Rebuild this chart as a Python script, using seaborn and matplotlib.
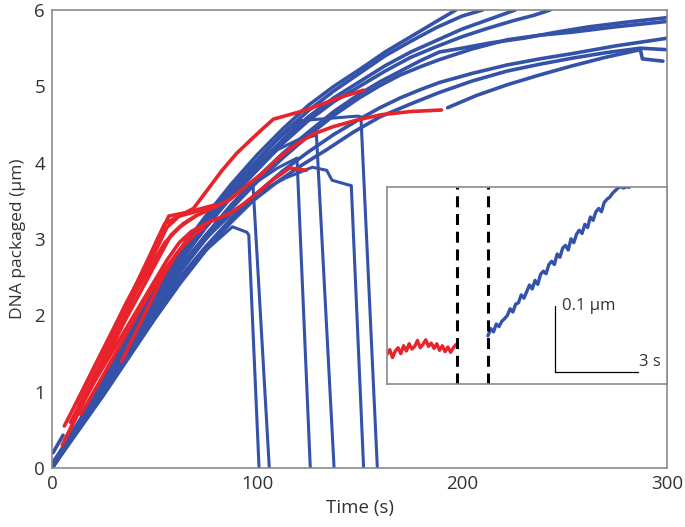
import numpy as np
import pandas as pd
import matplotlib
matplotlib.use("Agg")
import matplotlib.pyplot as plt
import seaborn as sns

# ---------------- data ----------------
# continuing blue traces: (time s, DNA packaged um)
blue_traces = {
    "B1": [(0, 0.0), (25, 1.15), (50, 2.35), (62.5, 2.85), (75, 3.3), (87.5, 3.72), (100, 4.1), (112.5, 4.44),
           (125, 4.75), (137.5, 5.0), (150, 5.22), (162.5, 5.45), (175, 5.65), (187.5, 5.85), (197, 6.0)],
    "B2": [(0, 0.05), (25, 1.1), (50, 2.3), (62.5, 2.8), (75, 3.25), (87.5, 3.67), (100, 4.03), (112.5, 4.38),
           (125, 4.68), (137.5, 4.94), (150, 5.17), (162.5, 5.4), (175, 5.59), (187.5, 5.77), (200, 5.92), (210, 6.0)],
    "B9": [(0, 0.0), (25, 1.08), (50, 2.25), (62.5, 2.75), (75, 3.2), (87.5, 3.6), (100, 3.95), (112.5, 4.3),
           (125, 4.6), (137.5, 4.85), (150, 5.06), (162.5, 5.27), (175, 5.45), (187.5, 5.6), (200, 5.75),
           (212.5, 5.87), (226, 6.0)],
    "B3": [(0, 0.0), (25, 1.05), (50, 2.2), (62.5, 2.7), (75, 3.15), (87.5, 3.55), (100, 3.9), (112.5, 4.25),
           (125, 4.55), (137.5, 4.8), (150, 5.0), (162.5, 5.2), (175, 5.38), (187.5, 5.52), (200, 5.65),
           (212.5, 5.76), (225, 5.86), (235, 5.93), (243, 6.0)],
    "B4": [(0, 0.0), (25, 1.05), (50, 2.15), (62.5, 2.62), (75, 3.05), (87.5, 3.45), (100, 3.8), (112.5, 4.12),
           (125, 4.4), (137.5, 4.67), (150, 4.9), (160, 5.06), (170, 5.2), (180, 5.34), (189, 5.45), (200, 5.5),
           (214, 5.57), (230, 5.63), (246, 5.71), (262, 5.78), (280, 5.84), (300, 5.9)],
    "B5": [(0, 0.0), (25, 1.0), (50, 2.1), (62.5, 2.57), (75, 3.0), (87.5, 3.4), (100, 3.75), (112.5, 4.06),
           (125, 4.35), (137.5, 4.62), (150, 4.85), (160, 5.01), (170, 5.15), (180, 5.26), (189, 5.35),
           (205, 5.49), (222, 5.61), (238, 5.67), (254, 5.71), (275, 5.78), (300, 5.85)],
    "B6": [(0, 0.0), (25, 1.0), (50, 2.05), (62.5, 2.5), (75, 2.9), (87.5, 3.27), (100, 3.6), (112.5, 3.89),
           (125, 4.14), (137.5, 4.37), (150, 4.57), (160, 4.72), (170, 4.85), (180, 4.96), (189, 5.05),
           (205, 5.17), (222, 5.28), (238, 5.36), (254, 5.43), (275, 5.53), (300, 5.63)],
    "B7": [(0, 0.0), (25, 0.95), (50, 1.95), (62.5, 2.42), (75, 2.85), (87, 3.21), (98, 3.5), (110, 3.75),
           (122, 3.97), (134, 4.17), (147, 4.4), (160, 4.6), (175, 4.77), (189, 4.92), (205, 5.07),
           (222, 5.2), (238, 5.29), (254, 5.37), (270, 5.44), (287, 5.5), (300, 5.48)],
    "B8": [(193, 4.72), (207, 4.88), (222, 5.02), (238, 5.15), (254, 5.27), (270, 5.38), (287, 5.48),
           (288, 5.36), (298, 5.33)],
    "S1": [(0.5, 0.2), (5.4, 0.43)],
    "S2": [(0.5, 0.07), (29.8, 1.18)],
    "S3": [(36, 1.55), (48, 2.05)],
}
# blue traces that stall and drop to zero
drop_traces = {
    "D1": [(0, 0.0), (25, 1.05), (50, 2.0), (62, 2.45), (75, 2.85), (88, 3.16), (95, 3.09), (96, 3.05), (101, 0.0)],
    "D2": [(0, 0.05), (25, 1.1), (50, 2.15), (62.5, 2.6), (75, 3.0), (87, 3.4), (98, 3.73), (106, 0.0)],
    "D3": [(0, 0.0), (25, 1.1), (50, 2.2), (62.5, 2.65), (75, 3.05), (87.5, 3.43), (100, 3.75),
           (110, 3.93), (119.5, 4.06), (126, 0.0)],
    "D4": [(0, 0.0), (25, 1.15), (50, 2.3), (62.5, 2.77), (75, 3.2), (87.5, 3.6), (100, 3.95), (110, 4.17),
           (120, 4.3), (129, 4.36), (137.6, 0.0)],
    "D5": [(0, 0.0), (25, 1.1), (50, 2.2), (62.5, 2.62), (75, 3.0), (87.5, 3.33), (100, 3.6), (114, 3.8),
           (127, 3.94), (134, 3.9), (136.6, 3.77), (144.4, 3.71), (146, 3.7), (152, 0.0)],
    "D6": [(0, 0.0), (25, 1.15), (50, 2.35), (62.5, 2.83), (75, 3.25), (87.5, 3.65), (100, 4.0), (110, 4.3),
           (121, 4.55), (135, 4.58), (149, 4.61), (150.7, 4.6), (158.7, 0.0)],
}
red_traces = {
    "R1": [(5, 0.3), (15, 0.85), (25, 1.4), (32, 1.81), (40, 2.25), (48, 2.7), (56, 3.15), (62, 3.3),
           (69, 3.4), (76, 3.65), (83, 3.9), (90, 4.12), (97, 4.3), (103, 4.45), (108, 4.57), (116, 4.63),
           (124, 4.69), (132, 4.77), (140, 4.85), (152, 4.95)],
    "R2": [(8, 0.45), (16, 0.9), (25, 1.35), (35, 1.9), (45, 2.4), (52, 2.75), (58, 3.05), (64, 3.2),
           (70, 3.3), (78, 3.4), (87, 3.52), (95, 3.7), (103, 3.87), (110, 4.05), (118, 4.22), (127, 4.37),
           (137, 4.47), (149, 4.56), (161, 4.63), (175, 4.67), (190, 4.69)],
    "R3": [(10, 0.6), (20, 1.1), (30, 1.55), (40, 2.0), (50, 2.45), (56, 2.72), (62, 2.95), (68, 3.1),
           (75, 3.2), (81, 3.27), (87, 3.34), (94, 3.47), (100, 3.6), (108, 3.78), (116, 3.93), (124, 3.9)],
    "R4": [(6, 0.55), (14, 0.97), (22, 1.4), (31, 1.88), (40, 2.35), (48, 2.8), (55, 3.2), (62, 3.3), (76, 3.4)],
    "R5": [(12, 0.85), (20, 1.28), (28, 1.7), (36, 2.15), (45, 2.6), (51, 2.97), (57, 3.3), (66, 3.35), (80, 3.45)],
    "R6": [(9, 0.6), (17, 1.02), (25, 1.45), (33, 1.9), (42, 2.35), (49, 2.68), (55, 2.95), (62, 3.15), (70, 3.3)],
    "R7": [(14, 0.7), (23, 1.12), (32, 1.55), (40, 1.94), (48, 2.3), (55, 2.6), (62, 2.85), (68, 3.02), (74, 3.15)],
    "R8": [(34, 1.4), (44, 1.95), (54, 2.5), (60, 2.77), (66, 3.0)],
}

# inset: red trace before, blue trace after (time s, position um)
inset_red_t = [0.0, 0.1, 0.2, 0.3, 0.4, 0.5, 0.6, 0.7, 0.8, 0.9, 1.0, 1.1, 1.2, 1.3,
               1.4, 1.5, 1.6, 1.7, 1.8, 1.9, 2.0, 2.1, 2.2, 2.3, 2.4, 2.5]
inset_red_y = [0.045, 0.052, 0.040, 0.050, 0.055, 0.046, 0.058, 0.050, 0.061, 0.053,
               0.057, 0.066, 0.055, 0.060, 0.067, 0.057, 0.062, 0.054, 0.061, 0.051,
               0.058, 0.049, 0.056, 0.048, 0.055, 0.060]
inset_blue_t = [3.65, 3.75, 3.85, 3.95, 4.05, 4.15, 4.25, 4.35, 4.45, 4.55, 4.65, 4.75,
                4.85, 4.95, 5.05, 5.15, 5.25, 5.35, 5.45, 5.55, 5.65, 5.75, 5.85, 5.95,
                6.05, 6.15, 6.25, 6.35, 6.45, 6.55, 6.65, 6.75, 6.85, 6.95, 7.05, 7.15,
                7.25, 7.35, 7.45, 7.55, 7.65, 7.75, 7.85, 7.95, 8.05, 8.15, 8.25, 8.35,
                8.45, 8.55, 8.65, 8.75]
inset_blue_y = [0.073, 0.084, 0.079, 0.091, 0.087, 0.095, 0.099, 0.104, 0.114, 0.109,
                0.121, 0.123, 0.135, 0.130, 0.140, 0.150, 0.144, 0.157, 0.151, 0.166,
                0.171, 0.167, 0.181, 0.186, 0.181, 0.197, 0.192, 0.206, 0.210, 0.203,
                0.220, 0.214, 0.227, 0.233, 0.228, 0.242, 0.237, 0.253, 0.248, 0.261,
                0.266, 0.261, 0.275, 0.280, 0.283, 0.289, 0.293, 0.297, 0.299, 0.297,
                0.299, 0.298]
gap_lines_t = [2.53, 3.65]

x_ticks = [0, 100, 200, 300]
y_ticks = [0, 1, 2, 3, 4, 5, 6]

BLUE = "#3352a8"
RED = "#e8232b"
SPINE = "#8a8a8a"
TEXT = "#333333"


def to_frame(traces):
    rows = []
    for name, pts in traces.items():
        for t, y in pts:
            rows.append({"trace": name, "t": t, "y": y})
    return pd.DataFrame(rows)


df_cont = to_frame(blue_traces)
df_drop = to_frame(drop_traces)
df_red = to_frame(red_traces)

# ---------------- figure ----------------
sns.set_style("white")
plt.rcParams["font.family"] = ["Open Sans", "DejaVu Sans"]

fig = plt.figure(figsize=(6.85, 5.27), dpi=100)
ax = fig.add_axes([52 / 685, 59 / 527, 615 / 685, 458 / 527])

sns.lineplot(data=df_drop, x="t", y="y", units="trace", estimator=None, sort=False,
             color=BLUE, lw=2.2, ax=ax, legend=False)
sns.lineplot(data=df_cont, x="t", y="y", units="trace", estimator=None, sort=False,
             color=BLUE, lw=2.6, ax=ax, legend=False)
sns.lineplot(data=df_red, x="t", y="y", units="trace", estimator=None, sort=False,
             color=RED, lw=2.6, ax=ax, legend=False)

ax.set_xlim(0, 300)
ax.set_ylim(0, 6)
ax.set_xticks(x_ticks)
ax.set_yticks(y_ticks)
ax.tick_params(direction="in", length=4, width=0.8, color=SPINE, labelcolor=TEXT,
               labelsize=13.5, pad=5)
for s in ax.spines.values():
    s.set_color(SPINE)
    s.set_linewidth(1.2)
ax.set_xlabel("Time (s)", fontsize=13.5, color=TEXT, labelpad=4)
ax.set_ylabel("DNA packaged (µm)", fontsize=12.5, color=TEXT, labelpad=6)

# ---------------- inset ----------------
ins = fig.add_axes([387 / 685, 143 / 527, 280 / 685, 197 / 527])
ins.set_facecolor("white")
sns.lineplot(x=inset_red_t, y=inset_red_y, color=RED, lw=2.4, ax=ins, sort=False)
sns.lineplot(x=inset_blue_t, y=inset_blue_y, color=BLUE, lw=2.4, ax=ins, sort=False)
for gt in gap_lines_t:
    ins.axvline(gt, color="black", lw=2.2, dashes=(3.6, 2.2))
ins.set_xlim(0, 10.12)
ins.set_ylim(0, 0.2985)
ins.set_xticks([])
ins.set_yticks([])
ins.set_xlabel("")
ins.set_ylabel("")
for s in ins.spines.values():
    s.set_color(SPINE)
    s.set_linewidth(1.2)

# scale bar
ins.plot([6.07, 6.07], [0.0182, 0.118], color="black", lw=0.9)
ins.plot([6.07, 9.07], [0.0182, 0.0182], color="black", lw=0.9)
ins.text(6.33, 0.118, "0.1 µm", fontsize=12, color=TEXT, va="center", ha="left")
ins.text(9.12, 0.034, "3 s", fontsize=12, color=TEXT, va="center", ha="left")

fig.savefig("out.png", dpi=100)
